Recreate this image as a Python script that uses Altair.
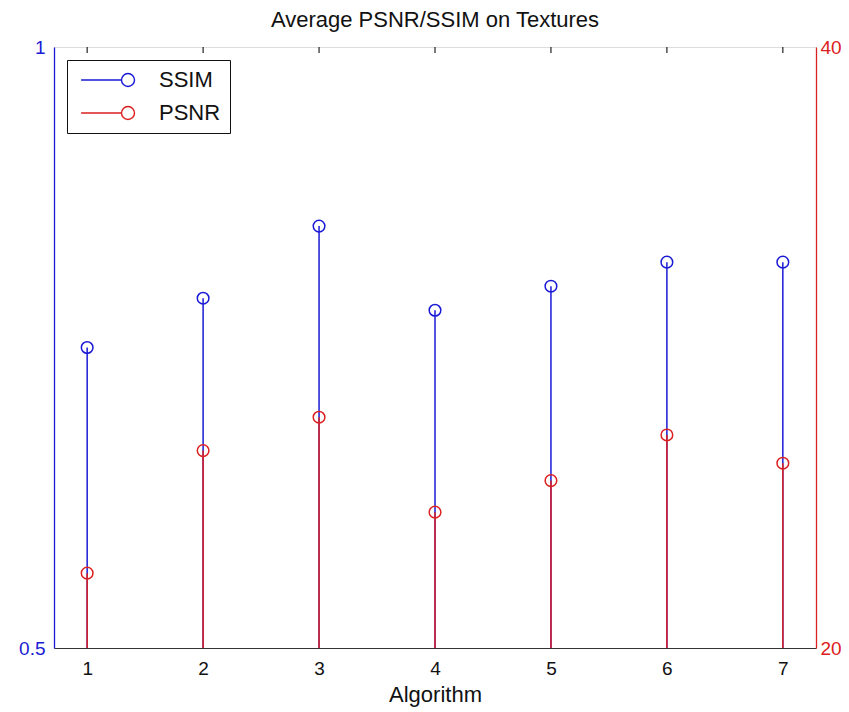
import altair as alt
import pandas as pd

# Average scores per algorithm
algorithms = [1, 2, 3, 4, 5, 6, 7]
ssim_values = [0.750, 0.791, 0.851, 0.781, 0.801, 0.821, 0.821]
psnr_values = [22.49, 26.57, 27.68, 24.52, 25.57, 27.09, 26.15]

BLUE = "#1a1ad6"
RED = "#dc2020"
FONT = "Liberation Sans"

W, H = 762, 601

ssim_df = pd.DataFrame({"alg": algorithms, "value": ssim_values, "series": "SSIM"})
psnr_df = pd.DataFrame({"alg": algorithms, "value": psnr_values, "series": "PSNR"})
tick_df = pd.DataFrame({"alg": algorithms})

x_scale = alt.Scale(domain=[0.714, 7.286], nice=False, zero=False)
x_enc = alt.X(
    "alg:Q",
    scale=x_scale,
    axis=alt.Axis(
        values=algorithms,
        format="d",
        title="Algorithm",
        ticks=False,
        domainColor="#333333",
        labelColor="#111111",
        labelFont=FONT,
        labelFontSize=19,
        labelPadding=11,
        titleFont=FONT,
        titleFontSize=22,
        titleFontWeight="normal",
        titleColor="#111111",
        titlePadding=6,
        grid=False,
    ),
)

color_enc = alt.Color(
    "series:N",
    scale=alt.Scale(domain=["SSIM", "PSNR"], range=[BLUE, RED]),
    legend=alt.Legend(
        title=None,
        orient="none",
        legendX=13,
        legendY=13,
        strokeColor="#111111",
        fillColor="white",
        padding=9,
        rowPadding=11,
        symbolOffset=41,
        labelOffset=20,
        labelFont=FONT,
        labelFontSize=22,
        labelColor="#111111",
        symbolType="M-6.7,0H-0.93M0.93,0A0.93,0.93,0,1,1,-0.93,0A0.93,0.93,0,1,1,0.93,0",
        symbolSize=196,
        symbolStrokeWidth=1.4,
        symbolFillColor="transparent",
    ),
)

# Inward tick marks along the top edge
top_ticks = alt.Chart(tick_df).mark_rule(color="#222222", strokeWidth=1.2).encode(
    x=x_enc,
    y=alt.value(0),
    y2=alt.value(6),
)

def stem_layer(df, domain, orient, col, fmt, pad):
    y_enc = alt.Y(
        "value:Q",
        scale=alt.Scale(domain=domain, nice=False, zero=False),
        axis=alt.Axis(
            orient=orient,
            values=domain,
            format=fmt,
            title=None,
            ticks=False,
            grid=False,
            domainColor=col,
            domainWidth=1.3,
            labelColor=col,
            labelFont=FONT,
            labelFontSize=19,
            labelPadding=pad,
        ),
    )
    base = alt.Chart(df)
    stems = base.mark_rule(strokeWidth=1.5).encode(
        x=x_enc, y=y_enc, y2=alt.datum(domain[0]), color=color_enc
    )
    heads = base.mark_point(filled=False, size=135, strokeWidth=1.5, opacity=1).encode(
        x=x_enc, y=y_enc, color=color_enc
    )
    return alt.layer(stems, heads)

ssim_layer = stem_layer(ssim_df, [0.5, 1], "left", BLUE, "~g", 9)
psnr_layer = stem_layer(psnr_df, [20, 40], "right", RED, "d", 4)

chart = (
    alt.layer(top_ticks, ssim_layer, psnr_layer)
    .resolve_scale(y="independent")
    .properties(
        width=W,
        height=H,
        title=alt.TitleParams(
            "Average PSNR/SSIM on Textures",
            font=FONT,
            fontSize=22,
            fontWeight="normal",
            color="#111111",
            anchor="middle",
            offset=6,
        ),
        autosize=alt.AutoSizeParams(type="none"),
        padding={"left": 54, "top": 47, "right": 33, "bottom": 64},
    )
    .configure_view(stroke="#333333", strokeWidth=1.3)
    .configure(background="white")
)

chart.save("out.html", embed_options={"renderer": "svg", "actions": False})
